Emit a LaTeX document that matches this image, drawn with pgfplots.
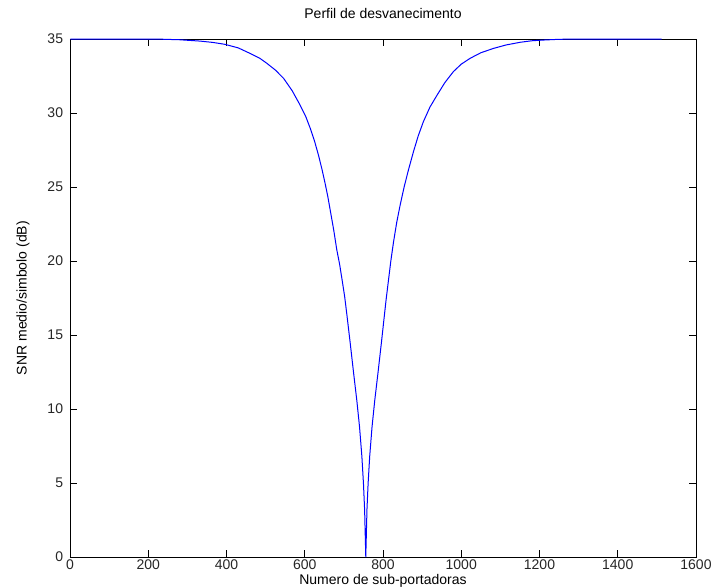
\documentclass[border=0pt]{standalone}
\usepackage{fontspec}
\setmainfont{Liberation Sans}
\usepackage{pgfplots}
\pgfplotsset{compat=1.18}

% SNR profile of the faded sub-carriers
\pgfplotstableread{
x     snr
1     35
150   35
230   34.99
280   34.95
332   34.86
365   34.77
396   34.64
430   34.4
460   34.03
485   33.7
503   33.36
525   32.9
546   32.34
568   31.5
588   30.54
602   29.8
614   28.97
625   28.1
635   27.16
644   26.2
652   25.25
659   24.35
665   23.45
674   22.1
682   20.74
689   19.8
695   18.8
702   17.6
708   16.3
716   14.5
725   12.4
733   10.6
740   8.8
746   6.8
750   5.0
753   3.2
756   0
759   3.2
762   5.0
766   6.8
772   8.8
779   10.6
787   12.4
796   14.5
803   16.2
808   17.4
814   18.7
820   20.0
827   21.3
835   22.6
844   23.8
854   25.0
865   26.15
878   27.4
890   28.45
903   29.4
920   30.4
938   31.2
958   32.05
980   32.8
1000  33.3
1023  33.7
1050  34.07
1083  34.37
1115  34.6
1151  34.78
1180  34.88
1210  34.93
1250  34.98
1300  35
1512  35
}\snrdata

\begin{document}
\begin{tikzpicture}
\path[use as bounding box] (0,0) rectangle (536.25pt,440.25pt);
\begin{axis}[
  at={(52.5pt,22.5pt)}, anchor=south west,
  scale only axis, width=469.5pt, height=388.5pt,
  xmin=0, xmax=1600, ymin=0, ymax=35,
  xtick={0,200,...,1600}, ytick={0,5,...,35},
  scaled x ticks=false,
  tick align=inside, major tick length=5pt,
  every tick/.style={black, line width=0.6pt},
  axis line style={black, line width=0.6pt},
  clip=false,
  every axis title shift=0pt,
  /pgf/number format/assume math mode=true,
  /pgf/number format/set thousands separator={},
  tick label style={font=\fontsize{10.5}{12}\selectfont, text=black!85},
  xticklabel style={anchor=base, yshift=-9pt},
  yticklabel style={anchor=east, inner sep=0pt, xshift=-5pt},
  title={Perfil de desvanecimento},
  title style={at={(axis description cs:0.5,1.0405)}, anchor=base, font=\fontsize{10.5}{12}\selectfont},
  xlabel={Numero de sub-portadoras},
  xlabel style={at={(axis description cs:0.5,-0.054)}, anchor=base, font=\fontsize{10.5}{12}\selectfont},
  ylabel={SNR medio/simbolo (dB)},
  ylabel style={at={(axis description cs:-0.0694,0.5)}, anchor=base, font=\fontsize{10.5}{12}\selectfont},
]
\addplot[color={rgb,255:red,0;green,0;blue,255}, line width=0.75pt] table[x=x, y=snr] {\snrdata};
\end{axis}
\end{tikzpicture}
\end{document}
